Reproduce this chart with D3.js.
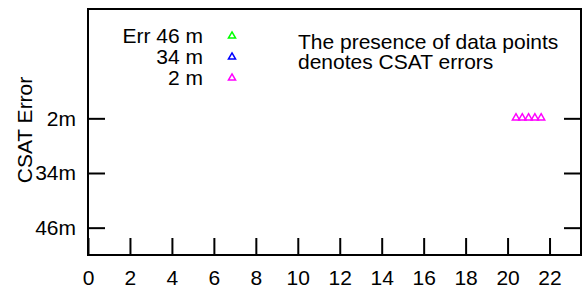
<!DOCTYPE html>
<html>
<head>
<meta charset="utf-8">
<script src="https://cdn.jsdelivr.net/npm/d3@7"></script>
<style>
  body { margin: 0; background: #fff; }
  text { font-family: "Liberation Sans", Arial, sans-serif; font-size: 21px; fill: #000; }
</style>
</head>
<body>
<div id="chart"></div>
<script>
// categories on the y axis, bottom to top
const categories = ['46m', '34m', '2m'];
const categoryValues = [1, 2, 3];
const xTicks = [0, 2, 4, 6, 8, 10, 12, 14, 16, 18, 20, 22];

// series: x positions where a CSAT error was seen
const seriesNames = ['Err 46 m', '34 m', '2 m'];
const seriesColors = ['#00ff00', '#0000ff', '#ff00ff'];
const err46 = [];
const err34 = [];
const err2 = [20.4, 20.7, 21.0, 21.3, 21.6];

const note = ['The presence of data points', 'denotes CSAT errors'];

const width = 582, height = 288;
const margin = { top: 9, right: 1, bottom: 33, left: 88 };

const svg = d3.select('#chart').append('svg')
    .attr('width', width)
    .attr('height', height);

const x = d3.scaleLinear()
    .domain([0, 23.5])
    .range([margin.left, width - margin.right]);

const y = d3.scaleLinear()
    .domain([0.5, 5])
    .range([height - margin.bottom, margin.top]);

const tickLen = 17;

// x axis, ticks pointing inwards
const xAxis = d3.axisBottom(x)
    .tickValues(xTicks)
    .tickSize(-tickLen)
    .tickPadding(15)
    .tickSizeOuter(0);

svg.append('g')
    .attr('transform', `translate(0,${y.range()[0]})`)
    .call(xAxis)
    .call(g => g.select('.domain').remove())
    .call(g => g.selectAll('line').attr('stroke', '#000').attr('stroke-width', 2))
    .call(g => g.selectAll('text').attr('font-size', 20).attr('font-family', null));

// y axis on left and mirrored on right
const yAxis = d3.axisLeft(y)
    .tickValues(categoryValues)
    .tickFormat((d, i) => categories[i])
    .tickSize(-tickLen)
    .tickPadding(12)
    .tickSizeOuter(0);

svg.append('g')
    .attr('transform', `translate(${x.range()[0]},0)`)
    .call(yAxis)
    .call(g => g.select('.domain').remove())
    .call(g => g.selectAll('line').attr('stroke', '#000').attr('stroke-width', 2))
    .call(g => g.selectAll('text').attr('font-size', 20).attr('font-family', null));

svg.append('g')
    .attr('transform', `translate(${x.range()[1]},0)`)
    .call(d3.axisRight(y).tickValues(categoryValues).tickFormat('').tickSize(-tickLen).tickSizeOuter(0))
    .call(g => g.select('.domain').remove())
    .call(g => g.selectAll('line').attr('stroke', '#000').attr('stroke-width', 2));

// frame
svg.append('rect')
    .attr('x', x.range()[0])
    .attr('y', y.range()[1])
    .attr('width', x.range()[1] - x.range()[0])
    .attr('height', y.range()[0] - y.range()[1])
    .attr('fill', 'none')
    .attr('stroke', '#000')
    .attr('stroke-width', 2);

// y title
svg.append('text')
    .attr('text-anchor', 'middle')
    .attr('transform', `translate(32,130) rotate(-90)`)
    .text('CSAT Error');

const tri = d3.symbol().type(d3.symbolTriangle).size(22);

// data points, series i sits on category i
const series = [err46, err34, err2];
series.forEach((vals, si) => {
    svg.append('g').selectAll('path')
        .data(vals)
        .join('path')
        .attr('d', tri)
        .attr('transform', d => `translate(${x(d)},${y(categoryValues[si]) - 0.5})`)
        .attr('fill', 'none')
        .attr('stroke', seriesColors[si])
        .attr('stroke-width', 1.5);
});

// legend
const legend = svg.append('g');
seriesNames.forEach((name, i) => {
    const ly = 36 + i * 21;
    legend.append('text')
        .attr('x', 203)
        .attr('y', ly)
        .attr('dy', '0.35em')
        .attr('text-anchor', 'end')
        .text(name);
    legend.append('path')
        .attr('d', tri)
        .attr('transform', `translate(232,${ly})`)
        .attr('fill', 'none')
        .attr('stroke', seriesColors[i])
        .attr('stroke-width', 1.5);
});

// note
note.forEach((line, i) => {
    svg.append('text')
        .attr('x', 298)
        .attr('y', 42 + i * 20)
        .attr('dy', '0.35em')
        .text(line);
});
</script>
</body>
</html>
